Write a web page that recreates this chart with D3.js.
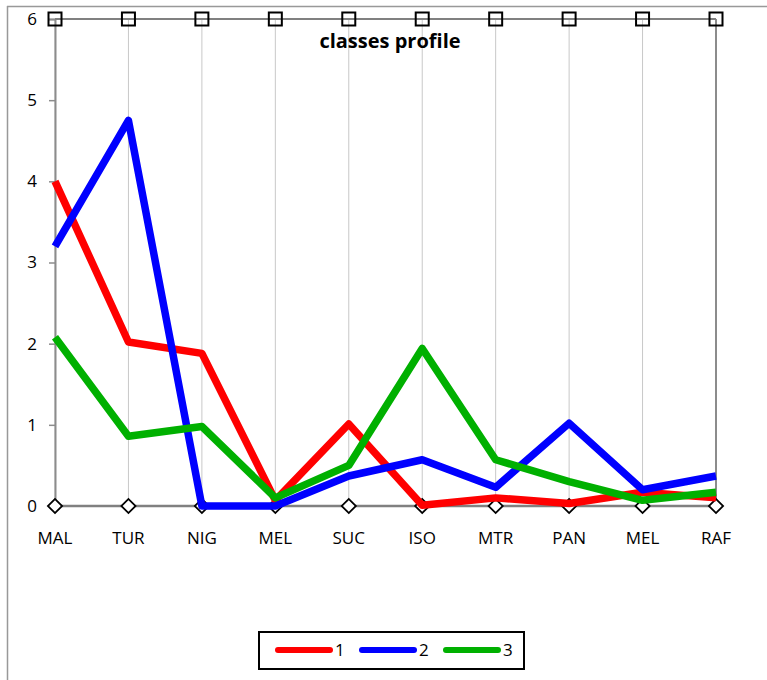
<!DOCTYPE html>
<html>
<head>
<meta charset="utf-8">
<script src="https://cdn.jsdelivr.net/npm/d3@7"></script>
<style>
  body { margin: 0; background: #fff; }
  svg { display: block; font-family: "Open Sans", "DejaVu Sans", sans-serif; }
</style>
</head>
<body>
<div class="container"></div>
<script>
var categories = ["MAL", "TUR", "NIG", "MEL", "SUC", "ISO", "MTR", "PAN", "MEL", "RAF"];
var class1 = [4.0, 2.02, 1.88, 0.07, 1.01, 0.01, 0.1, 0.03, 0.17, 0.1];
var class2 = [3.2, 4.75, 0, 0, 0.37, 0.57, 0.23, 1.02, 0.2, 0.37];
var class3 = [2.08, 0.86, 0.98, 0.1, 0.5, 1.94, 0.57, 0.3, 0.07, 0.17];
var seriesNames = ["1", "2", "3"];
var seriesColors = ["#ff0000", "#0000ff", "#00b000"];
var yTicks = [0, 1, 2, 3, 4, 5, 6];
var chartTitle = "classes profile";

var loadChart = function () {
    const WIDTH = 767, HEIGHT = 680;
    var left = 55, right = 716, top = 19, bottom = 506;

    var svg = d3.select('.container').append('svg')
        .attr('width', WIDTH).attr('height', HEIGHT);

    // outer frame (only top and left edges visible)
    svg.append('line').attr('x1', 7).attr('x2', WIDTH).attr('y1', 6.5).attr('y2', 6.5)
        .attr('stroke', '#999').attr('stroke-width', 1.5);
    svg.append('line').attr('x1', 7.5).attr('x2', 7.5).attr('y1', 6).attr('y2', HEIGHT)
        .attr('stroke', '#999').attr('stroke-width', 1.5);

    var xScale = d3.scalePoint().domain(d3.range(categories.length)).range([left, right]);
    var yScale = d3.scaleLinear().domain([0, 6]).range([bottom, top]);

    // vertical gridlines
    svg.append('g').selectAll('line').data(d3.range(categories.length)).enter()
        .append('line')
        .attr('x1', function (d) { return xScale(d); })
        .attr('x2', function (d) { return xScale(d); })
        .attr('y1', top).attr('y2', bottom)
        .attr('stroke', '#c8c8c8').attr('stroke-width', 1);

    // right border of plot
    svg.append('line').attr('x1', right).attr('x2', right).attr('y1', top).attr('y2', bottom)
        .attr('stroke', '#8c8c8c').attr('stroke-width', 2);

    // y axis
    var yAxis = d3.axisLeft(yScale).tickValues(yTicks).tickSize(6).tickPadding(12)
        .tickFormat(d3.format('d'));
    var gy = svg.append('g').attr('transform', 'translate(' + left + ',0)').call(yAxis);
    gy.attr('font-size', null).attr('font-family', null);
    gy.select('.domain').attr('stroke', '#8c8c8c').attr('stroke-width', 2);
    gy.selectAll('.tick line').attr('stroke', '#8c8c8c').attr('stroke-width', 1.5);
    gy.selectAll('.tick text').style('font-size', '17px').attr('fill', '#000');

    // x labels
    svg.append('g').selectAll('text').data(categories).enter()
        .append('text')
        .attr('x', function (d, i) { return xScale(i); })
        .attr('y', 544)
        .attr('text-anchor', 'middle')
        .style('font-size', '17px')
        .text(function (d) { return d; });

    // top and bottom marker series
    var flatLine = function (v) {
        return d3.line().x(function (d, i) { return xScale(i); }).y(function () { return yScale(v); });
    };
    svg.append('path').datum(categories).attr('d', flatLine(6))
        .attr('fill', 'none').attr('stroke', '#808080').attr('stroke-width', 2);
    svg.append('path').datum(categories).attr('d', flatLine(0))
        .attr('fill', 'none').attr('stroke', '#808080').attr('stroke-width', 2.5);

    svg.append('g').selectAll('rect').data(categories).enter()
        .append('rect')
        .attr('x', function (d, i) { return xScale(i) - 6.5; })
        .attr('y', yScale(6) - 6.5)
        .attr('width', 13).attr('height', 13)
        .attr('fill', 'none').attr('stroke', '#000').attr('stroke-width', 2);

    svg.append('g').selectAll('path').data(categories).enter()
        .append('path')
        .attr('d', d3.symbol().type(d3.symbolSquare).size(100))
        .attr('transform', function (d, i) {
            return 'translate(' + xScale(i) + ',' + yScale(0) + ') rotate(45)';
        })
        .attr('fill', '#fff').attr('stroke', '#000').attr('stroke-width', 1.8);

    // data series
    var line = d3.line()
        .x(function (d, i) { return xScale(i); })
        .y(function (d) { return yScale(d); });
    [class1, class2, class3].forEach(function (values, k) {
        svg.append('path').datum(values).attr('d', line)
            .attr('fill', 'none')
            .attr('stroke', seriesColors[k])
            .attr('stroke-width', 7.5)
            .attr('stroke-linejoin', 'round');
    });

    // title
    svg.append('text').attr('x', 390).attr('y', 48).attr('text-anchor', 'middle')
        .style('font-size', '20px').attr('font-weight', 'bold').text(chartTitle);

    // legend
    var lg = svg.append('g');
    lg.append('rect').attr('x', 259).attr('y', 632).attr('width', 265).attr('height', 37)
        .attr('fill', '#fff').attr('stroke', '#000').attr('stroke-width', 2);
    seriesNames.forEach(function (name, k) {
        var x0 = 278 + k * 84;
        lg.append('line').attr('x1', x0).attr('x2', x0 + 52).attr('y1', 650).attr('y2', 650)
            .attr('stroke', seriesColors[k]).attr('stroke-width', 6).attr('stroke-linecap', 'round');
        lg.append('text').attr('x', x0 + 57).attr('y', 656).style('font-size', '17px').text(name);
    });
};

window.onload = loadChart;
</script>
</body>
</html>
